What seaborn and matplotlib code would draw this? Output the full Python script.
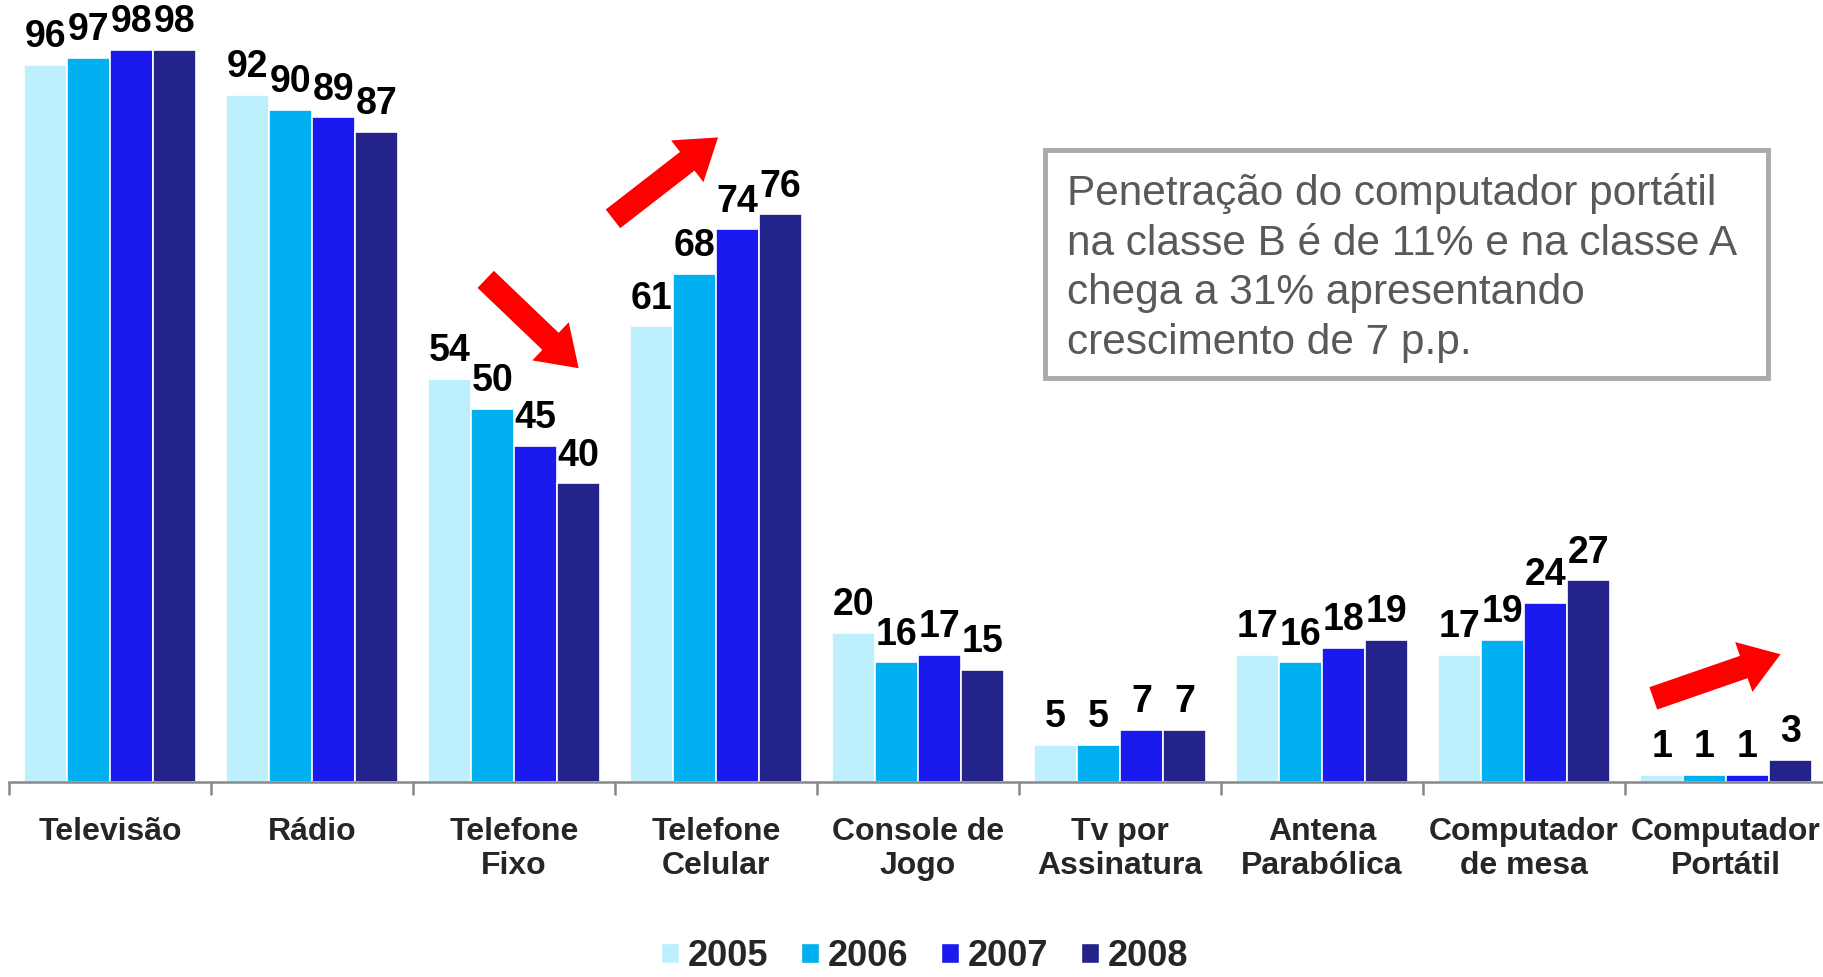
import pandas as pd
import numpy as np
import seaborn as sns
import matplotlib.pyplot as plt
from matplotlib.patches import Rectangle
from matplotlib.ticker import FixedLocator

# data
categorias = ["Televisão", "Rádio", "Telefone\nFixo", "Telefone\nCelular", "Console de\nJogo",
              "Tv por\nAssinatura", "Antena\nParabólica", "Computador\nde mesa", "Computador\nPortátil"]
anos = ["2005", "2006", "2007", "2008"]
v2005 = [96, 92, 54, 61, 20, 5, 17, 17, 1]
v2006 = [97, 90, 50, 68, 16, 5, 16, 19, 1]
v2007 = [98, 89, 45, 74, 17, 7, 18, 24, 1]
v2008 = [98, 87, 40, 76, 15, 7, 19, 27, 3]
cores = ["#BDEFFC", "#00B0F0", "#1A1AEE", "#23238B"]
nota = ("Penetração do computador portátil\nna classe B é de 11% e na classe A\n"
        "chega a 31% apresentando\ncrescimento de 7 p.p.")

df = pd.DataFrame({"categoria": categorias * 4,
                   "ano": np.repeat(anos, len(categorias)),
                   "valor": v2005 + v2006 + v2007 + v2008})

sns.set_theme(style="white")
plt.rcParams['font.family'] = ['Liberation Sans', 'DejaVu Sans']

fig = plt.figure(figsize=(18.24, 9.77), dpi=100)
ax = fig.add_axes([9 / 1824, 1 - 782 / 977, 1818 / 1824, 782 / 977])

sns.barplot(data=df, x="categoria", y="valor", hue="ano", palette=cores, width=0.85,
            saturation=1, edgecolor="white", linewidth=1.2, ax=ax, legend=False)

for c in ax.containers:
    ax.bar_label(c, fmt="%d", padding=7, fontsize=27, fontweight="bold", color="black")

ax.set_xlim(-0.5, len(categorias) - 0.5)
ax.set_ylim(0, 104.7)
ax.set_xlabel("")
ax.set_ylabel("")
ax.set_yticks([])
for s in ["left", "top", "right"]:
    ax.spines[s].set_visible(False)
ax.spines["bottom"].set_color("#888888")
ax.spines["bottom"].set_linewidth(1.8)
ax.tick_params(axis="x", which="major", length=0, pad=25, labelsize=23)
for t in ax.get_xticklabels():
    t.set_fontweight("bold")
ax.xaxis.set_minor_locator(FixedLocator(np.arange(-0.5, len(categorias), 1.0)))
ax.tick_params(axis="x", which="minor", bottom=True, length=9, width=1.8, color="#888888")

# red trend arrows
setas = [((1.86, 67.3), (2.32, 55.4)),
         ((2.49, 75.4), (3.01, 86.3)),
         ((7.64, 11.2), (8.27, 17.1))]
for cauda, ponta in setas:
    ax.annotate("", xy=ponta, xytext=cauda, annotation_clip=False,
                arrowprops=dict(arrowstyle="simple,head_length=1.4,head_width=1.9,tail_width=0.85",
                                mutation_scale=20, color="red", shrinkA=0, shrinkB=0, lw=0))

# note box
fig.patches.append(Rectangle((1045 / 1824, 1 - 378 / 977), 723 / 1824, 228 / 977,
                             transform=fig.transFigure, facecolor="white",
                             edgecolor="#AAAAAA", linewidth=3.5, zorder=5))
fig.text(1067 / 1824, 1 - 268 / 977, nota, fontsize=30.5, color="#595959",
         va="center", ha="left", linespacing=1.32, zorder=6)

# legend
handles = [Rectangle((0, 0), 1, 1, facecolor=c) for c in cores]
fig.legend(handles, anos, loc="center", bbox_to_anchor=(0.507, 0.021), ncol=4, frameon=False,
           handlelength=0.5, handleheight=0.5, handletextpad=0.25, columnspacing=0.9,
           prop={"size": 26, "weight": "bold"}, borderpad=0)

fig.savefig("out.png", dpi=100)
